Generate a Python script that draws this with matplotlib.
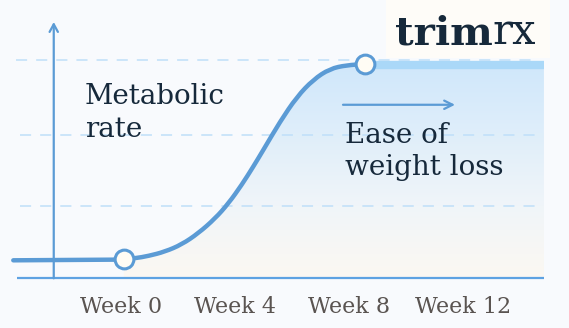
import numpy as np
import matplotlib
matplotlib.use("Agg")
import matplotlib.pyplot as plt
from matplotlib.colors import LinearSegmentedColormap
from matplotlib.patches import Polygon, Rectangle, PathPatch
from matplotlib.path import Path

# ---- data (x in weeks, y in relative "metabolic rate" units) ----
tick_weeks = [0, 4, 8, 12]
tick_labels = ["Week 0", "Week 4", "Week 8", "Week 12"]

flat_weeks = [-3.78, 0.1]
flat_level = [0.25, 0.26]

curve_weeks = [0.1, 0.49, 0.96, 1.54, 2.13, 2.71, 3.30, 3.77, 4.24,
               4.64, 4.99, 5.58, 6.17, 6.75, 7.33, 7.92, 8.56]
curve_level = [0.27, 0.278, 0.31, 0.37, 0.47, 0.625, 0.83, 1.04, 1.30,
               1.55, 1.78, 2.175, 2.52, 2.76, 2.91, 2.96, 2.975]

plateau_weeks = [8.56, 14.84]
plateau_level = [2.96, 2.96]

marker_weeks = [0.1, 8.56]
marker_level = [0.27, 2.975]

grid_levels = [1.0, 1.99, 3.03]

# ---- colours ----
BG = "#f8fafd"
LINE = "#5b9bd5"
AXIS = "#5ea2e2"
GRID = "#bfdff9"
BAND = "#aad8f8"
TEXT = "#16293b"
TICK = "#5a5451"

plt.rcParams["lines.scale_dashes"] = False
FONT = "DejaVu Serif"


def smooth_path(xs, ys):
    # quadratic bezier through the midpoints, read points act as controls
    pts = np.column_stack([xs, ys])
    verts = [pts[0], (pts[0] + pts[1]) / 2]
    codes = [Path.MOVETO, Path.LINETO]
    for i in range(1, len(pts) - 1):
        verts += [pts[i], (pts[i] + pts[i + 1]) / 2]
        codes += [Path.CURVE3, Path.CURVE3]
    verts.append(pts[-1])
    codes.append(Path.LINETO)
    return Path(verts, codes)


fig = plt.figure(figsize=(5.69, 3.28), dpi=100, facecolor=BG)
ax = fig.add_axes([0, 0, 1, 1])
ax.set_facecolor(BG)
ax.set_xlim(-4.246, 15.72)
ax.set_ylim(-0.69, 3.865)
ax.axis("off")

# gradient fill under the curve
poly_x = curve_weeks + [plateau_weeks[1], plateau_weeks[1], curve_weeks[0]]
poly_y = curve_level + [plateau_level[1], 0.0, 0.0]
clip = Polygon(np.column_stack([poly_x, poly_y]), closed=True,
               facecolor="none", edgecolor="none")
ax.add_patch(clip)
cmap = LinearSegmentedColormap.from_list(
    "fade", ["#fcf8f2", "#f0f5f9", "#dfeefa", "#cfe7fb"])
grad = np.linspace(0, 1, 256).reshape(-1, 1)
im = ax.imshow(grad, extent=[0, 14.84, 0, 3.0], origin="lower",
               aspect="auto", cmap=cmap, zorder=1)
im.set_clip_path(clip)

# dashed guides
for i, g in enumerate(grid_levels):
    x0 = -3.68 if i == len(grid_levels) - 1 else -3.53
    ax.plot([x0, 14.6], [g, g], color=GRID, lw=1.1,
            linestyle=(0, (8, 6.5)), zorder=2)

# plateau band
ax.plot(plateau_weeks, plateau_level, color=BAND, lw=6.0,
        solid_capstyle="butt", zorder=3)

# axes
ax.plot([-3.65, 14.84], [0, 0], color=AXIS, lw=1.6, zorder=3,
        solid_capstyle="butt")
ax.annotate("", xy=(-2.36, 3.56), xytext=(-2.36, 0),
            arrowprops=dict(arrowstyle="->,head_length=0.55,head_width=0.3",
                            color=LINE, lw=1.6, shrinkA=0, shrinkB=0),
            zorder=3)

# curve
ax.plot(flat_weeks, flat_level, color=LINE, lw=3.2,
        solid_capstyle="round", zorder=4)
ax.add_patch(PathPatch(smooth_path(curve_weeks, curve_level),
                       facecolor="none", edgecolor=LINE, lw=3.2,
                       capstyle="round", joinstyle="round", zorder=4))
ax.plot(marker_weeks, marker_level, "o", ms=13.5, mfc="#fffcf4",
        mec=LINE, mew=2.2, zorder=5)

# "ease" arrow
ax.annotate("", xy=(11.72, 2.41), xytext=(7.79, 2.41),
            arrowprops=dict(arrowstyle="->,head_length=0.6,head_width=0.3",
                            color=LINE, lw=1.6, shrinkA=0, shrinkB=0),
            zorder=4)

# labels
ax.text(-1.26, 2.42, "Metabolic", fontsize=20, color=TEXT,
        family=FONT, va="baseline", ha="left", zorder=6)
ax.text(-1.26, 1.96, "rate", fontsize=20, color=TEXT,
        family=FONT, va="baseline", ha="left", zorder=6)
ax.text(7.86, 1.88, "Ease of", fontsize=20, color=TEXT,
        family=FONT, va="baseline", ha="left", zorder=6)
ax.text(7.86, 1.435, "weight loss", fontsize=20, color=TEXT,
        family=FONT, va="baseline", ha="left", zorder=6)

for w, lab in zip(tick_weeks, tick_labels):
    ax.text(w, -0.48, lab, fontsize=16, color=TICK, family=FONT,
            va="baseline", ha="center", zorder=6)

# logo
ax.add_patch(Rectangle((9.30, 3.06), 5.75, 1.0, facecolor="#fefcf8",
                       edgecolor="none", zorder=6))
t1 = ax.text(9.61, 3.25, "trim", fontsize=29, color=TEXT, family=FONT,
             weight="bold", va="baseline", ha="left", zorder=7)
ax.annotate("rx", xy=(1.0, 3.25), xycoords=(t1, "data"), fontsize=30,
            color=TEXT, family=FONT, va="baseline", ha="left", zorder=7)

fig.savefig("out.png", dpi=100, facecolor=BG)
